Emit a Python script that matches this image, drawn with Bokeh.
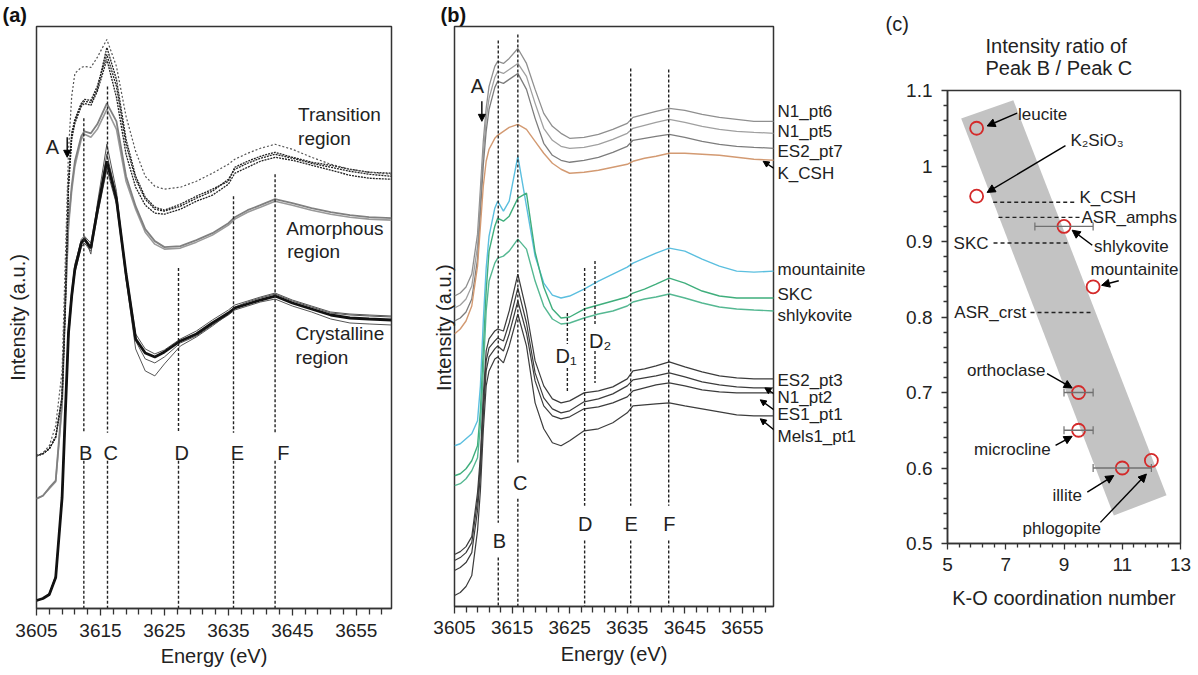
import math
from bokeh.plotting import figure
from bokeh.layouts import row
from bokeh.models import (Label, Arrow, NormalHead, FixedTicker, Range1d,
                          ColumnDataSource, Whisker, TeeHead, CustomJSTickFormatter,
                          LinearAxis)
from bokeh.embed import file_html
from bokeh.resources import INLINE

FONT = "Liberation Sans"

# ---------------- data ----------------
energy = [3605, 3606, 3607, 3608, 3609, 3609.5, 3610, 3610.5, 3611, 3612,
          3612.5, 3613.5, 3614.5, 3616, 3617.5, 3619, 3620.5, 3622, 3623.5, 3625,
          3627.5, 3630, 3632.5, 3635, 3636, 3638, 3640, 3642.3, 3645, 3648,
          3651, 3654, 3657, 3660.5]

# panel (a)
trans_1 = [1.53, 1.55, 1.60, 1.72, 2.13, 3.08, 4.28, 4.76, 4.90, 5.06,
           5.10, 5.09, 5.23, 5.55, 5.23, 4.65, 4.30, 4.10, 4.00, 3.98,
           4.03, 4.11, 4.18, 4.30, 4.40, 4.46, 4.51, 4.55, 4.51, 4.46,
           4.42, 4.38, 4.35, 4.33]
trans_2 = [1.53, 1.55, 1.60, 1.71, 2.10, 3.00, 4.20, 4.70, 4.86, 5.03,
           5.06, 5.04, 5.18, 5.50, 5.12, 4.55, 4.22, 4.04, 3.96, 3.95,
           4.00, 4.08, 4.14, 4.25, 4.36, 4.42, 4.48, 4.52, 4.49, 4.44,
           4.39, 4.34, 4.31, 4.30]
trans_3 = [1.53, 1.55, 1.60, 1.72, 2.12, 3.05, 4.25, 4.74, 4.88, 5.05,
           5.08, 5.07, 5.20, 5.62, 5.30, 4.70, 4.33, 4.12, 4.02, 3.99,
           4.05, 4.13, 4.20, 4.28, 4.42, 4.48, 4.53, 4.57, 4.52, 4.47,
           4.44, 4.40, 4.37, 4.36]
trans_dash = [1.53, 1.56, 1.63, 1.83, 2.38, 3.48, 4.58, 5.13, 5.36, 5.42,
              5.43, 5.42, 5.52, 5.70, 5.43, 4.93, 4.58, 4.33, 4.23, 4.20,
              4.22, 4.28, 4.36, 4.45, 4.50, 4.56, 4.61, 4.65, 4.60, 4.52,
              4.45, 4.40, 4.37, 4.35]
amorph_1 = [1.10, 1.13, 1.21, 1.28, 2.08, 3.08, 3.88, 4.23, 4.48, 4.73,
            4.78, 4.76, 4.85, 5.06, 4.88, 4.33, 4.03, 3.80, 3.68, 3.62,
            3.63, 3.69, 3.76, 3.86, 3.92, 3.99, 4.04, 4.10, 4.06, 4.01,
            3.97, 3.94, 3.92, 3.91]
amorph_2 = [1.10, 1.13, 1.20, 1.27, 2.02, 3.00, 3.82, 4.18, 4.43, 4.70,
            4.75, 4.72, 4.80, 5.00, 4.80, 4.28, 4.00, 3.77, 3.65, 3.60,
            3.61, 3.67, 3.74, 3.84, 3.90, 3.97, 4.02, 4.08, 4.04, 3.99,
            3.95, 3.92, 3.90, 3.89]
cryst_1 = [0.08, 0.10, 0.14, 0.31, 1.11, 1.95, 2.76, 3.13, 3.40, 3.66,
           3.70, 3.61, 3.98, 4.48, 4.10, 3.35, 2.70, 2.56, 2.52, 2.57,
           2.68, 2.75, 2.86, 2.96, 3.01, 3.05, 3.09, 3.13, 3.06, 3.00,
           2.94, 2.91, 2.90, 2.89]
cryst_2 = [0.08, 0.10, 0.15, 0.33, 1.15, 2.00, 2.82, 3.18, 3.45, 3.68,
           3.72, 3.55, 4.05, 4.65, 4.18, 3.30, 2.60, 2.38, 2.33, 2.45,
           2.63, 2.72, 2.83, 2.95, 3.02, 3.07, 3.11, 3.15, 3.08, 3.02,
           2.96, 2.94, 2.93, 2.92]
cryst_3 = [0.08, 0.10, 0.14, 0.30, 1.08, 1.90, 2.70, 3.08, 3.36, 3.62,
           3.66, 3.58, 3.93, 4.40, 4.05, 3.30, 2.68, 2.50, 2.46, 2.52,
           2.66, 2.73, 2.84, 2.94, 2.99, 3.03, 3.07, 3.10, 3.03, 2.97,
           2.90, 2.86, 2.85, 2.84]
cryst_4 = [0.08, 0.10, 0.15, 0.32, 1.12, 1.98, 2.80, 3.15, 3.42, 3.70,
           3.73, 3.66, 4.02, 4.55, 4.14, 3.38, 2.75, 2.60, 2.55, 2.59,
           2.70, 2.78, 2.89, 2.99, 3.04, 3.08, 3.12, 3.16, 3.09, 3.03,
           2.97, 2.95, 2.94, 2.93]

# panel (b)
n1_pt6 = [3.11, 3.14, 3.20, 3.33, 3.73, 4.19, 4.66, 4.99, 5.21, 5.41,
          5.46, 5.44, 5.49, 5.59, 5.44, 5.18, 4.94, 4.81, 4.74, 4.69,
          4.70, 4.73, 4.78, 4.84, 4.90, 4.93, 4.96, 4.99, 4.97, 4.93,
          4.90, 4.88, 4.86, 4.86]
n1_pt5 = [2.99, 3.02, 3.08, 3.21, 3.61, 4.06, 4.54, 4.88, 5.09, 5.30,
          5.36, 5.34, 5.38, 5.44, 5.31, 5.04, 4.79, 4.67, 4.61, 4.59,
          4.60, 4.63, 4.68, 4.74, 4.79, 4.82, 4.85, 4.88, 4.85, 4.81,
          4.78, 4.76, 4.75, 4.74]
es2_pt7 = [2.86, 2.89, 2.95, 3.08, 3.48, 3.94, 4.42, 4.76, 4.98, 5.20,
           5.26, 5.24, 5.28, 5.34, 5.18, 4.89, 4.64, 4.52, 4.47, 4.45,
           4.47, 4.50, 4.55, 4.61, 4.67, 4.69, 4.71, 4.73, 4.70, 4.66,
           4.63, 4.61, 4.60, 4.59]
k_csh = [2.73, 2.78, 2.86, 3.01, 3.41, 3.81, 4.21, 4.46, 4.58, 4.69,
         4.72, 4.76, 4.80, 4.83, 4.78, 4.66, 4.54, 4.44, 4.38, 4.34,
         4.35, 4.37, 4.40, 4.43, 4.46, 4.49, 4.51, 4.54, 4.54, 4.53,
         4.52, 4.50, 4.48, 4.47]
mountainite = [1.61, 1.63, 1.68, 1.73, 1.86, 2.21, 2.86, 3.39, 3.71, 3.99,
               4.06, 3.96, 4.06, 4.51, 4.01, 3.51, 3.24, 3.12, 3.09, 3.11,
               3.18, 3.26, 3.33, 3.40, 3.44, 3.49, 3.54, 3.59, 3.56, 3.48,
               3.41, 3.36, 3.35, 3.36]
skc = [1.31, 1.33, 1.38, 1.46, 1.61, 1.96, 2.56, 3.16, 3.56, 3.81,
       3.89, 3.86, 3.91, 4.09, 4.14, 3.55, 3.20, 2.98, 2.89, 2.90,
       2.98, 3.02, 3.06, 3.10, 3.14, 3.18, 3.23, 3.29, 3.24, 3.16,
       3.11, 3.09, 3.09, 3.09]
shlykovite = [1.21, 1.23, 1.28, 1.36, 1.49, 1.81, 2.36, 2.96, 3.26, 3.44,
              3.49, 3.51, 3.56, 3.68, 3.58, 3.26, 3.01, 2.88, 2.83, 2.84,
              2.89, 2.93, 2.96, 3.01, 3.05, 3.08, 3.10, 3.13, 3.09, 3.04,
              3.00, 2.98, 2.97, 2.96]
es2_pt3 = [0.52, 0.55, 0.60, 0.70, 1.14, 1.51, 2.11, 2.56, 2.68, 2.76,
           2.78, 2.76, 2.96, 3.33, 2.96, 2.46, 2.21, 2.08, 2.04, 2.06,
           2.14, 2.16, 2.20, 2.28, 2.36, 2.38, 2.41, 2.45, 2.40, 2.35,
           2.31, 2.29, 2.28, 2.28]
n1_pt2 = [0.46, 0.49, 0.54, 0.64, 1.06, 1.43, 2.01, 2.46, 2.59, 2.66,
          2.69, 2.66, 2.84, 3.19, 2.84, 2.34, 2.09, 1.98, 1.94, 1.96,
          2.05, 2.08, 2.13, 2.21, 2.27, 2.29, 2.31, 2.34, 2.30, 2.25,
          2.22, 2.20, 2.19, 2.19]
es1_pt1 = [0.36, 0.39, 0.44, 0.54, 0.96, 1.33, 1.91, 2.36, 2.50, 2.58,
           2.61, 2.56, 2.73, 3.06, 2.74, 2.26, 2.01, 1.91, 1.88, 1.90,
           1.98, 2.00, 2.04, 2.10, 2.16, 2.19, 2.22, 2.24, 2.21, 2.17,
           2.15, 2.14, 2.14, 2.14]
mels1_pt1 = [0.11, 0.14, 0.20, 0.31, 0.76, 1.16, 1.76, 2.21, 2.36, 2.48,
             2.50, 2.44, 2.61, 2.93, 2.61, 2.04, 1.78, 1.64, 1.61, 1.66,
             1.76, 1.78, 1.84, 1.94, 2.01, 2.02, 2.03, 2.04, 2.01, 1.98,
             1.95, 1.92, 1.91, 1.91]

energy_ticks = [3605, 3615, 3625, 3635, 3645, 3655]
peak_names = ["B", "C", "D", "E", "F"]
peak_energy_a = [3612.4, 3616.1, 3627.2, 3635.8, 3642.3]
peak_energy_b = [3612.6, 3616.0, 3627.6, 3635.6, 3642.2]
sub_peak_names = ["D\u2081", "D\u2082"]
sub_peak_energy = [3624.6, 3629.4]
right_names = ["N1_pt6", "N1_pt5", "ES2_pt7", "K_CSH", "mountainite", "SKC",
               "shlykovite", "ES2_pt3", "N1_pt2", "ES1_pt1", "Mels1_pt1"]

# panel (c)
minerals = ["leucite", "K\u2082SiO\u2083", "shlykovite", "mountainite",
            "orthoclase", "microcline", "illite", "phlogopite"]
coord_num = [6, 6, 9, 10, 9.5, 9.5, 11, 12]
ratio_bc = [1.05, 0.96, 0.92, 0.84, 0.70, 0.65, 0.60, 0.61]
err_ratio = [0.92, 0.70, 0.65, 0.60]
err_lo = [8, 9, 9, 10]
err_hi = [10, 10, 10, 12]
samples = ["K_CSH", "ASR_amphs", "SKC", "ASR_crst"]
sample_ratio = [0.952, 0.932, 0.898, 0.806]
band_cn = [5.47, 7.26, 12.52, 10.71]
band_ratio = [1.063, 1.087, 0.564, 0.537]
cn_ticks = [5, 7, 9, 11, 13]
ratio_ticks = [0.5, 0.6, 0.7, 0.8, 0.9, 1.0, 1.1]

NBSP = "\u00a0"


# ---------------- helpers ----------------
def base_fig(width, height, xr, yr, bl, br, bt, bb):
    p = figure(width=width, height=height, x_range=xr, y_range=yr,
               output_backend="svg", toolbar_location=None,
               min_border_left=bl, min_border_right=br,
               min_border_top=bt, min_border_bottom=bb)
    try:
        p.frame_align = False
    except Exception:
        pass
    p.xgrid.visible = False
    p.ygrid.visible = False
    p.outline_line_color = "#333333"
    p.outline_line_width = 1.5
    p.background_fill_color = "white"
    p.border_fill_color = "white"
    return p


def style_axis(ax, tick_out=7, minor_out=6, standoff=8):
    ax.major_label_text_font = FONT
    ax.major_label_text_font_size = "19px"
    ax.major_label_text_color = "#222222"
    ax.major_tick_in = 0
    ax.major_tick_out = tick_out
    ax.minor_tick_in = 0
    ax.minor_tick_out = minor_out
    ax.axis_line_color = "#333333"
    ax.axis_line_width = 1.5
    ax.major_tick_line_color = "#333333"
    ax.minor_tick_line_color = "#333333"
    ax.major_tick_line_width = 1.3
    ax.minor_tick_line_width = 1.3
    ax.major_label_standoff = standoff
    ax.axis_label_text_font = FONT
    ax.axis_label_text_font_size = "20px"
    ax.axis_label_text_font_style = "normal"
    ax.axis_label_text_color = "#222222"


def blank_axis(ax, label, standoff):
    ax.ticker = FixedTicker(ticks=[])
    ax.axis_line_color = None
    ax.major_tick_line_color = None
    ax.minor_tick_line_color = None
    ax.major_tick_out = 0
    ax.minor_tick_out = 0
    ax.major_label_text_font_size = "0px"
    ax.axis_label = label
    ax.axis_label_standoff = standoff
    ax.axis_label_text_font = FONT
    ax.axis_label_text_font_size = "20px"
    ax.axis_label_text_font_style = "normal"
    ax.axis_label_text_color = "#222222"


def panel_title(p, text, offset, standoff=2):
    p.title.text = text
    p.title.align = "left"
    p.title.offset = offset
    p.title.text_font = FONT
    p.title.text_font_size = "20px"
    p.title.text_font_style = "bold"
    p.title.text_color = "#111111"
    p.title.standoff = standoff


def lab(p, x, y, text, size="17px", align="left", baseline="middle",
        color="#222222"):
    p.add_layout(Label(x=x, y=y, text=text, text_font=FONT, text_font_size=size,
                       text_align=align, text_baseline=baseline,
                       text_color=color))


def arrow(p, x0, y0, x1, y1, size=8):
    p.add_layout(Arrow(x_start=x0, y_start=y0, x_end=x1, y_end=y1,
                       line_color="black", line_width=1.4,
                       end=NormalHead(size=size, fill_color="black",
                                      line_color="black", line_width=1)))


minor_e = [e for e in range(3607, 3661, 2) if e not in energy_ticks]

# ---------------- panel (a) ----------------
pa = base_fig(420, 675, Range1d(3605, 3660.5), Range1d(0, 5.83), 36, 29, 25, 67)
panel_title(pa, "(a)", -34)
pa.xaxis.ticker = FixedTicker(ticks=energy_ticks, minor_ticks=minor_e)
style_axis(pa.xaxis[0], standoff=8)
pa.xaxis.axis_label = "Energy (eV)"
pa.xaxis.axis_label_standoff = 5
blank_axis(pa.yaxis[0], "Intensity (a.u.)", 8)

for ys in (cryst_2, cryst_3, cryst_4):
    pa.line(energy, ys, line_color="#555555", line_width=1.0)
pa.line(energy, cryst_1, line_color="#111111", line_width=2.8)
pa.line(energy, amorph_2, line_color="#9a9a9a", line_width=1.6)
pa.line(energy, amorph_1, line_color="#808080", line_width=1.8)
for ys in (trans_2, trans_3, trans_1):
    pa.line(energy, ys, line_color="#222222", line_width=1.3, line_dash="2 1")
pa.line(energy, trans_dash, line_color="#555555", line_width=1.2, line_dash="2 2")

tops_a = [4.91, 5.23, 3.41, 4.13, 4.35]
pa.segment(x0=peak_energy_a, y0=tops_a, x1=peak_energy_a, y1=[1.76] * 5,
           line_color="#222222", line_width=1.4, line_dash="3 2")
pa.segment(x0=peak_energy_a, y0=[1.48] * 5, x1=peak_energy_a, y1=[0] * 5,
           line_color="#222222", line_width=1.4, line_dash="3 2")
lab_x_a = [3612.7, 3616.6, 3627.7, 3636.4, 3643.6]
for nm, xx in zip(peak_names, lab_x_a):
    lab(pa, xx, 1.56, nm, size="20px", align="center")

lab(pa, 3607.5, 4.62, "A", size="20px", align="center")
arrow(pa, 3609.8, 4.72, 3609.8, 4.52, size=7)

lab(pa, 3645.9, 4.95, "Transition", size="19px")
lab(pa, 3645.9, 4.71, "region", size="19px")
lab(pa, 3644.06, 3.81, "Amorphous", size="19px")
lab(pa, 3644.2, 3.58, "region", size="19px")
lab(pa, 3645.5, 2.75, "Crystalline", size="19px")
lab(pa, 3645.5, 2.51, "region", size="19px")

# ---------------- panel (b) ----------------
pb = base_fig(448, 675, Range1d(3605, 3660.4), Range1d(0, 5.81), 34, 86, 25, 69)
panel_title(pb, "(b)", -14)
pb.xaxis.ticker = FixedTicker(ticks=energy_ticks, minor_ticks=minor_e)
style_axis(pb.xaxis[0], standoff=7)
pb.xaxis.axis_label = "Energy (eV)"
pb.xaxis.axis_label_standoff = 6
blank_axis(pb.yaxis[0], "Intensity (a.u.)" + NBSP * 4, 0)

grey_cols = ["#8f8f8f", "#a0a0a0", "#7d7d7d"]
for ys, c in zip((n1_pt6, n1_pt5, es2_pt7), grey_cols):
    pb.line(energy, ys, line_color=c, line_width=1.3)
pb.line(energy, k_csh, line_color="#d39a72", line_width=1.4)
pb.line(energy, mountainite, line_color="#5bbfdf", line_width=1.4)
pb.line(energy, skc, line_color="#3fae7c", line_width=1.4)
pb.line(energy, shlykovite, line_color="#55b892", line_width=1.4)
for ys in (es2_pt3, n1_pt2, es1_pt1, mels1_pt1):
    pb.line(energy, ys, line_color="#3c3c3c", line_width=1.2)

tops_b = [5.67, 5.73, 3.39, 5.39, 5.38]
gap_top_b = [0.84, 1.43, 1.01, 1.01, 1.01]
gap_bot_b = [0.49, 1.08, 0.66, 0.66, 0.66]
lab_y_b = [0.66, 1.24, 0.83, 0.83, 0.83]
lab_x_b = [3612.8, 3616.4, 3627.7, 3635.7, 3642.3]
pb.segment(x0=peak_energy_b, y0=tops_b, x1=peak_energy_b, y1=gap_top_b,
           line_color="#222222", line_width=1.4, line_dash="3 2")
pb.segment(x0=peak_energy_b, y0=gap_bot_b, x1=peak_energy_b, y1=[0] * 5,
           line_color="#222222", line_width=1.4, line_dash="3 2")
for nm, xx, yy in zip(peak_names, lab_x_b, lab_y_b):
    lab(pb, xx, yy, nm, size="20px", align="center")

pb.segment(x0=sub_peak_energy, y0=[2.94, 3.46], x1=sub_peak_energy, y1=[2.63, 2.81],
           line_color="#222222", line_width=1.4, line_dash="3 2")
pb.segment(x0=sub_peak_energy, y0=[2.39, 2.56], x1=sub_peak_energy, y1=[2.14, 2.24],
           line_color="#222222", line_width=1.4, line_dash="3 2")
lab(pb, 3624.4, 2.51, sub_peak_names[0], size="20px", align="center")
lab(pb, 3630.3, 2.66, sub_peak_names[1], size="20px", align="center")

lab(pb, 3609.0, 5.21, "A", size="20px", align="center")
arrow(pb, 3609.75, 5.06, 3609.75, 4.86, size=7)

# curve names on the right, as a label-only axis
right_y = [4.96, 4.76, 4.56, 4.34, 3.38, 3.13, 2.92, 2.26, 2.09, 1.92, 1.70]
ax_r = LinearAxis(ticker=FixedTicker(ticks=right_y),
                  major_label_overrides={y: n for y, n in zip(right_y, right_names)})
ax_r.axis_line_color = None
ax_r.major_tick_line_color = None
ax_r.minor_tick_line_color = None
ax_r.major_tick_in = 0
ax_r.major_tick_out = 0
ax_r.minor_tick_out = 0
ax_r.major_label_standoff = 4
ax_r.major_label_text_font = FONT
ax_r.major_label_text_font_size = "17px"
ax_r.major_label_text_color = "#222222"
pb.add_layout(ax_r, "right")
arrow(pb, 3661.0, 4.37, 3658.6, 4.46, size=6)
arrow(pb, 3660.8, 2.12, 3658.9, 2.19, size=6)
arrow(pb, 3660.7, 1.96, 3658.1, 2.07, size=6)
arrow(pb, 3660.7, 1.76, 3658.1, 1.88, size=6)

# ---------------- panel (c) ----------------
pc = base_fig(330, 675, Range1d(5, 13), Range1d(0.5, 1.1), 79, 18, 90, 132)
# block is left-aligned; first line is the panel letter, the two title lines
# are indented with no-break spaces so that they sit centred over the frame
pc.title.text = ("(c)\n" + NBSP * 18 + "Intensity ratio of\n"
                 + NBSP * 18 + "Peak B / Peak C")
pc.title.align = "left"
pc.title.offset = -62
pc.title.vertical_align = "top"
pc.title.text_font = FONT
pc.title.text_font_size = "20px"
pc.title.text_font_style = "normal"
pc.title.text_color = "#222222"
pc.title.standoff = 20

cn_minor = [round(5 + 0.4 * i, 1) for i in range(21) if i % 5]
r_minor = [round(0.5 + 0.02 * i, 2) for i in range(31) if i % 5]
pc.xaxis.ticker = FixedTicker(ticks=cn_ticks, minor_ticks=cn_minor)
pc.yaxis.ticker = FixedTicker(ticks=ratio_ticks, minor_ticks=r_minor)
pc.yaxis.formatter = CustomJSTickFormatter(
    code="return tick.toFixed(1).replace(/\\.0$/, '')")
style_axis(pc.xaxis[0], tick_out=6, minor_out=4, standoff=8)
style_axis(pc.yaxis[0], tick_out=6, minor_out=4, standoff=9)
pc.xaxis.axis_label = "K-O coordination number"
pc.xaxis.axis_label_standoff = 13

pc.patch(band_cn, band_ratio, fill_color="#c3c3c3", line_color=None)

seg_x0 = [6.57, 6.75, 6.58, 7.85]
seg_x1 = [9.43, 9.57, 9.11, 9.97]
pc.segment(x0=seg_x0, y0=sample_ratio, x1=seg_x1, y1=sample_ratio,
           line_color="#222222", line_width=1.4, line_dash="4 3")
lab(pc, 9.53, sample_ratio[0] + 0.006, samples[0])
lab(pc, 9.60, sample_ratio[1], samples[1])
lab(pc, 6.41, sample_ratio[2], samples[2], align="right")
lab(pc, 7.70, sample_ratio[3], samples[3], align="right")

src_err = ColumnDataSource(dict(y=err_ratio, lo=err_lo, hi=err_hi))
pc.add_layout(Whisker(source=src_err, base="y", lower="lo", upper="hi",
                      dimension="width", line_color="#707070", line_width=1.4,
                      level="annotation",
                      upper_head=TeeHead(size=8, line_color="#707070", line_width=1.2),
                      lower_head=TeeHead(size=8, line_color="#707070", line_width=1.2)))

pc.scatter(coord_num, ratio_bc, marker="circle", size=13, fill_color=None,
           line_color="#d42a2a", line_width=1.8)

lab(pc, 7.42, 1.068, minerals[0])
arrow(pc, 7.39, 1.070, 6.36, 1.053)
lab(pc, 9.22, 1.034, minerals[1])
arrow(pc, 9.05, 1.027, 6.36, 0.965)
lab(pc, 10.03, 0.893, minerals[2])
arrow(pc, 9.97, 0.895, 9.28, 0.915)
lab(pc, 9.91, 0.863, minerals[3])
arrow(pc, 10.88, 0.848, 10.29, 0.842)
lab(pc, 8.36, 0.729, minerals[4], align="right")
arrow(pc, 8.42, 0.725, 9.28, 0.706)
lab(pc, 8.54, 0.625, minerals[5], align="right")
arrow(pc, 8.71, 0.630, 9.28, 0.642)
lab(pc, 9.11, 0.564, minerals[6], align="center")
arrow(pc, 9.80, 0.568, 10.71, 0.590)
lab(pc, 8.92, 0.520, minerals[7], align="center")
arrow(pc, 10.25, 0.528, 11.83, 0.592)

layout = row(pa, pb, pc)
open("out.html", "w").write(file_html(layout, INLINE))
